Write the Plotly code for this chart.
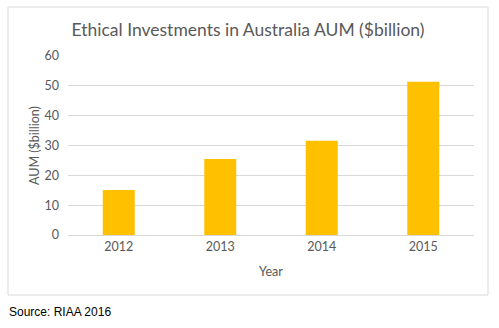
import plotly.graph_objects as go

years = ["2012", "2013", "2014", "2015"]
aum = [15.1, 25.5, 31.6, 51.4]
y_ticks = [0, 10, 20, 30, 40, 50, 60]

W, H = 499, 328
L, R, T, B = 68, 474, 56, 235  # plot area in pixels

def px_x(x):
    return (x - L) / (R - L)

def px_y(y):
    return (B - y) / (B - T)

fig = go.Figure(go.Bar(x=years, y=aum, marker=dict(color="#FFC000", line=dict(width=0)),
                       hoverinfo="x+y"))

fig.update_layout(
    width=W, height=H,
    margin=dict(l=L, r=W - R, t=T, b=H - B, pad=0),
    paper_bgcolor="white", plot_bgcolor="white",
    bargap=0.685,
    showlegend=False,
    font=dict(family="Lato, 'Open Sans', sans-serif", color="#595959", size=12),
    title=dict(text="Ethical Investments in Australia AUM ($billion)",
               x=(248) / W, xanchor="center", xref="container",
               y=1 - 30 / H, yanchor="middle", yref="container",
               font=dict(size=17.5, color="#595959")),
    xaxis=dict(type="category", showgrid=False, showline=True, linecolor="#d9d9d9",
               linewidth=1, ticks="", tickfont=dict(size=12.5, color="#595959"),
               title=dict(text="Year", font=dict(size=12.5, color="#595959"), standoff=14)),
    yaxis=dict(range=[0, 60], tickvals=y_ticks, showgrid=True, gridcolor="#d9d9d9",
               gridwidth=1, zeroline=False, showline=False, ticks="",
               ticklabelstandoff=8,
               tickfont=dict(size=12.5, color="#595959"),
               title=dict(text="AUM ($billion)", font=dict(size=12.5, color="#595959"), standoff=2)),
    shapes=[dict(type="rect", xref="paper", yref="paper",
                 x0=px_x(8), x1=px_x(488), y0=px_y(295), y1=px_y(7),
                 line=dict(color="#d9d9d9", width=1), fillcolor="rgba(0,0,0,0)", layer="below")],
    annotations=[dict(text="Source: RIAA 2016", xref="paper", yref="paper",
                      x=px_x(7), y=px_y(312), xanchor="left", yanchor="middle",
                      showarrow=False, font=dict(family="Liberation Sans, Arial", size=12, color="#000000"))],
)

fig.write_html("out.html")
